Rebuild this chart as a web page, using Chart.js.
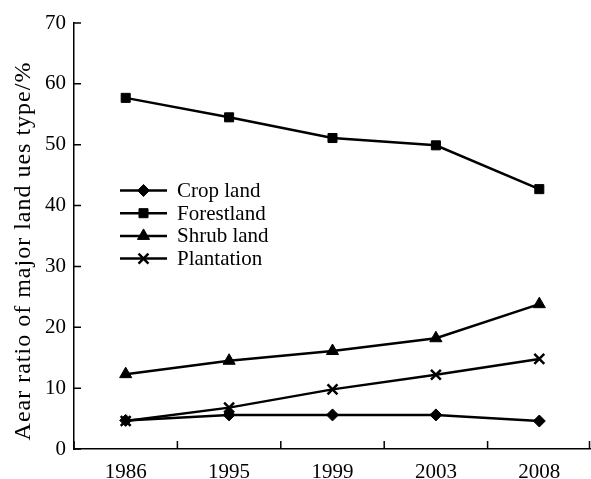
<!DOCTYPE html>
<html>
<head>
<meta charset="utf-8">
<script src="https://cdn.jsdelivr.net/npm/chart.js@4.4.0/dist/chart.umd.min.js"></script>
<style>
  html, body { margin: 0; padding: 0; background: #fff; }
  #wrap { width: 591px; height: 479px; }
</style>
</head>
<body>
<div id="wrap"><canvas id="landChart" width="591" height="479"></canvas></div>
<script>
const years = ["1986", "1995", "1999", "2003", "2008"];
const cropLand = [4.7, 5.6, 5.6, 5.6, 4.6];
const forestLand = [57.7, 54.5, 51.1, 49.9, 42.7];
const shrubLand = [12.3, 14.5, 16.1, 18.2, 23.8];
const plantation = [4.6, 6.8, 9.8, 12.2, 14.8];
const yTicks = [0, 10, 20, 30, 40, 50, 60, 70];

const FONT = "'Liberation Serif', 'Times New Roman', serif";

function series(label, data, style, radius) {
    return {
        label: label,
        data: data,
        borderColor: "#000",
        backgroundColor: "#000",
        borderWidth: 2.5,
        pointStyle: style,
        pointRadius: radius,
        pointHoverRadius: radius,
        pointBorderWidth: style === "crossRot" ? 2.5 : 1,
        tension: 0,
        clip: false
    };
}

// inward tick marks, y-axis title and the in-plot legend
const extras = {
    id: "extras",
    afterDraw(chart) {
        const ctx = chart.ctx;
        const a = chart.chartArea;
        const x = chart.scales.x;
        const y = chart.scales.y;
        ctx.save();
        ctx.strokeStyle = "#000";
        ctx.lineWidth = 1.5;
        ctx.beginPath();
        yTicks.forEach(function(v) {
            const py = y.getPixelForValue(v);
            ctx.moveTo(a.left, py);
            ctx.lineTo(a.left + 7, py);
        });
        for (let i = 0; i <= years.length; i++) {
            const px = Math.min(x.getPixelForValue(i - 0.5), a.right - 1.5);
            ctx.moveTo(px, a.bottom);
            ctx.lineTo(px, a.bottom - 8);
        }
        ctx.stroke();

        // y title
        ctx.fillStyle = "#000";
        ctx.font = "24px " + FONT;
        ctx.letterSpacing = "1px";
        ctx.textAlign = "center";
        ctx.textBaseline = "middle";
        ctx.translate(24, 251);
        ctx.rotate(-Math.PI / 2);
        ctx.fillText("Aear ratio of major land ues type/%", 0, 0);
        ctx.restore();

        // legend
        ctx.save();
        ctx.font = "21px " + FONT;
        ctx.textAlign = "left";
        ctx.textBaseline = "middle";
        chart.data.datasets.forEach(function(ds, i) {
            const ly = 190.5 + i * 22.7;
            ctx.strokeStyle = "#000";
            ctx.fillStyle = "#000";
            ctx.lineWidth = 2.5;
            ctx.beginPath();
            ctx.moveTo(120, ly);
            ctx.lineTo(167, ly);
            ctx.stroke();
            ctx.lineWidth = ds.pointBorderWidth;
            Chart.helpers.drawPoint(ctx, {
                pointStyle: ds.pointStyle,
                radius: ds.pointRadius,
                borderWidth: ds.pointBorderWidth,
                rotation: 0
            }, 143.5, ly);
            ctx.fillText(ds.label, 177, ly + 1);
        });
        ctx.restore();
    }
};

new Chart(document.getElementById("landChart"), {
    type: "line",
    data: {
        labels: years,
        datasets: [
            series("Crop land", cropLand, "rectRot", 6),
            series("Forestland", forestLand, "rect", 6.4),
            series("Shrub land", shrubLand, "triangle", 7),
            series("Plantation", plantation, "crossRot", 7)
        ]
    },
    options: {
        responsive: false,
        animation: false,
        layout: { autoPadding: false, padding: { top: 23, right: 0, left: 0, bottom: 0 } },
        plugins: {
            legend: { display: false },
            tooltip: { enabled: false }
        },
        scales: {
            x: {
                offset: true,
                grid: { display: false, drawTicks: false },
                border: { display: true, color: "#000", width: 1.5 },
                ticks: { color: "#000", font: { family: FONT, size: 21 }, padding: 11, maxRotation: 0 },
                afterFit: function(s) { s.height = 30; s.paddingLeft = 0; s.paddingRight = 0; }
            },
            y: {
                min: 0,
                max: 70,
                grid: { display: false, drawTicks: false },
                border: { display: true, color: "#000", width: 1.5 },
                afterBuildTicks: function(s) { s.ticks = yTicks.map(function(v) { return { value: v }; }); },
                ticks: { color: "#000", font: { family: FONT, size: 21 }, padding: 8 },
                afterFit: function(s) { s.width = 74; }
            }
        }
    },
    plugins: [extras]
});
</script>
</body>
</html>
